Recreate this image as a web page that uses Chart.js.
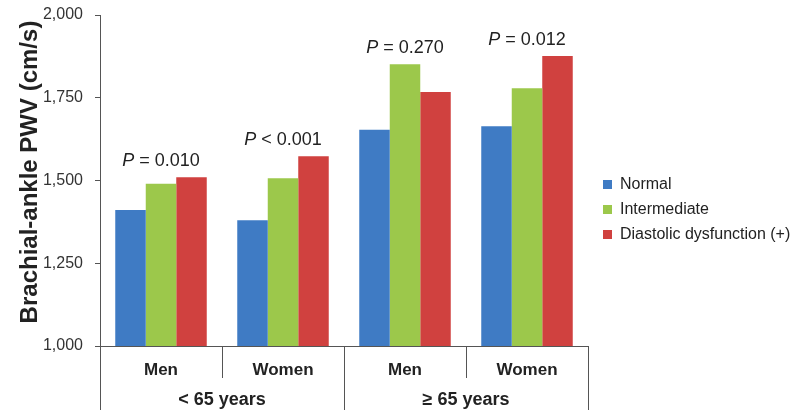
<!DOCTYPE html>
<html>
<head>
<meta charset="utf-8">
<script src="https://cdn.jsdelivr.net/npm/chart.js@4/dist/chart.umd.min.js"></script>
<style>
  body { margin: 0; background: #fff; }
  #wrap { width: 800px; height: 417px; position: relative; }
</style>
</head>
<body>
<div id="wrap"><canvas id="myChart"></canvas></div>
<script>
var categories = ['Men', 'Women', 'Men', 'Women'];
var ageGroups = ['< 65 years', '\u2265 65 years'];
var normal = [1411, 1380, 1653, 1664];
var intermediate = [1490, 1507, 1851, 1779];
var diastolic = [1510, 1573, 1767, 1876];
var pSigns = ['= 0.010', '< 0.001', '= 0.270', '= 0.012'];
var yTicks = [1000, 1250, 1500, 1750, 2000];
var yTitle = 'Brachial-ankle PWV (cm/s)';

var axisColor = '#555';
var textColor = '#222';
var fam = '"Liberation Sans", Arial, sans-serif';

// widen the gap between the plot and the legend on the right
var legendGap = {
  id: 'legendGap',
  beforeLayout: function(chart) {
    var lg = chart.legend;
    if (lg && !lg._patched) {
      var fit = lg.fit;
      lg.fit = function() {
        fit.call(this);
        this.width += 12;
      };
      lg._patched = true;
    }
  },
  afterLayout: function(chart) {
    var lg = chart.legend;
    lg.left += 6;
    lg.top += 1;
    lg.bottom += 1;
  }
};

// draws the y title, the two-level x axis separators, the age group labels and the P values
var extras = {
  id: 'extras',
  afterDraw: function(chart) {
    var ctx = chart.ctx;
    var x = chart.scales.x;
    var y = chart.scales.y;
    var w = x.getPixelForValue(1) - x.getPixelForValue(0);
    var bottom = chart.chartArea.bottom;
    ctx.save();

    ctx.save();
    ctx.translate(30, 172);
    ctx.rotate(-Math.PI / 2);
    ctx.fillStyle = textColor;
    ctx.font = 'bold 24px ' + fam;
    ctx.textAlign = 'center';
    ctx.textBaseline = 'middle';
    ctx.fillText(yTitle, 0, 0);
    ctx.restore();

    ctx.strokeStyle = axisColor;
    ctx.lineWidth = 1;
    for (var i = 0; i <= categories.length; i++) {
      var px = Math.round(x.getPixelForValue(0) - w / 2 + i * w) + 0.5;
      var len = (i % 2 === 0) ? 64 : 32;
      ctx.beginPath();
      ctx.moveTo(px, bottom);
      ctx.lineTo(px, bottom + len);
      ctx.stroke();
    }
    ctx.fillStyle = textColor;
    ctx.font = 'bold 18px ' + fam;
    ctx.textAlign = 'center';
    ctx.textBaseline = 'middle';
    for (var g = 0; g < ageGroups.length; g++) {
      var cx = (x.getPixelForValue(g * 2) + x.getPixelForValue(g * 2 + 1)) / 2;
      ctx.fillText(ageGroups[g], cx, bottom + 54);
    }
    ctx.textBaseline = 'alphabetic';
    ctx.textAlign = 'left';
    for (var c = 0; c < categories.length; c++) {
      var top = Math.max(normal[c], intermediate[c], diastolic[c]);
      var py = y.getPixelForValue(top) - 11;
      var cxp = x.getPixelForValue(c);
      ctx.font = 'italic 18px ' + fam;
      var wp = ctx.measureText('P').width;
      ctx.font = '18px ' + fam;
      var rest = ' ' + pSigns[c];
      var wr = ctx.measureText(rest).width;
      var sx = cxp - (wp + wr) / 2;
      ctx.font = 'italic 18px ' + fam;
      ctx.fillText('P', sx, py);
      ctx.font = '18px ' + fam;
      ctx.fillText(rest, sx + wp, py);
    }
    ctx.restore();
  }
};

var config = {
  type: 'bar',
  data: {
    labels: categories,
    datasets: [{
      label: 'Normal',
      data: normal,
      backgroundColor: '#3f7bc4'
    }, {
      label: 'Intermediate',
      data: intermediate,
      backgroundColor: '#9cc84b'
    }, {
      label: 'Diastolic dysfunction (+)',
      data: diastolic,
      backgroundColor: '#d0413f'
    }]
  },
  options: {
    responsive: true,
    maintainAspectRatio: false,
    animation: false,
    layout: {
      padding: { left: 0, right: 0, top: 0, bottom: 0 }
    },
    datasets: {
      bar: { categoryPercentage: 0.75, barPercentage: 1.0 }
    },
    plugins: {
      tooltip: { enabled: false },
      legend: {
        position: 'right',
        align: 'center',
        labels: {
          boxWidth: 9,
          boxHeight: 9,
          padding: 9,
          color: textColor,
          font: { size: 16, family: fam }
        }
      }
    },
    scales: {
      x: {
        grid: { display: false },
        border: { display: true, color: axisColor },
        afterFit: function(scale) { scale.height = 71; },
        ticks: {
          color: textColor,
          padding: 6,
          font: { size: 17, weight: 'bold', family: fam }
        }
      },
      y: {
        min: yTicks[0],
        max: yTicks[yTicks.length - 1],
        afterBuildTicks: function(scale) {
          scale.ticks = yTicks.map(function(v) { return { value: v }; });
        },
        afterFit: function(scale) {
          scale.width = 100;
          scale.paddingTop = 15;
        },
        grid: { drawOnChartArea: false, drawTicks: true, tickLength: 5, color: axisColor },
        border: { display: true, color: axisColor },
        ticks: {
          color: '#333',
          padding: 12,
          font: { size: 16, family: fam }
        }
      }
    }
  },
  plugins: [legendGap, extras]
};

config.options.scales.y.ticks.callback = function(v) { return v.toLocaleString('en-US'); };

var chart = new Chart(document.getElementById('myChart'), config);
</script>
</body>
</html>
